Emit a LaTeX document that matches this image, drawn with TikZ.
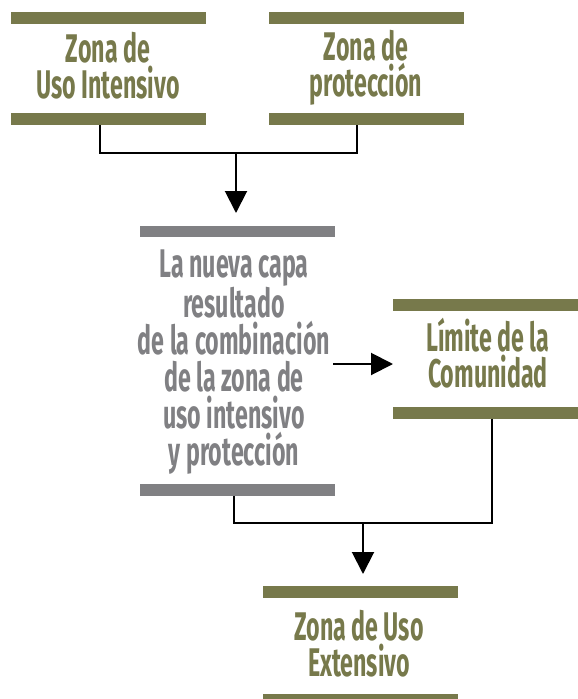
\documentclass[tikz,border=0pt]{standalone}
\usepackage{fontspec}
\setmainfont{Fira Sans}[FakeStretch=0.58]
\usetikzlibrary{arrows.meta}
\definecolor{olivec}{HTML}{77794B}
\definecolor{greyc}{HTML}{808083}
\begin{document}
\begin{tikzpicture}[x=1pt,y=-1pt,
  bar/.style={fill=#1, draw=none, minimum width=195pt, minimum height=12pt, inner sep=0pt, outer sep=0pt},
  lbl/.style={text=#1, font=\fontsize{40}{36}\selectfont\bfseries, align=center, inner sep=0pt},
  conn/.style={line width=2pt},
  arr/.style={line width=2pt, -{Triangle[length=22pt,width=22pt]}}]
\useasboundingbox (0,0) rectangle (578,699);
% box 1
\node[bar=olivec] (b1t) at (108.5,18) {};
\node[bar=olivec] (b1b) at (108.5,119) {};
\node[lbl=olivec] (t1) at (108,66) {Zona de\\Uso Intensivo};
% box 2
\node[bar=olivec] (b2t) at (366.5,18) {};
\node[bar=olivec] (b2b) at (366.5,119) {};
\node[lbl=olivec] (t2) at (366,68) {Zona de\\protección};
% box 3
\node[bar=greyc, minimum height=11pt] (b3t) at (237.5,231.5) {};
\node[bar=greyc] (b3b) at (237.5,490) {};
\node[lbl=greyc, font=\fontsize{40}{37}\selectfont\bfseries] (t3) at (234,362) {La nueva capa\\resultado\\de la combinación\\de la zona de\\uso intensivo\\y protección};
% box 4
\node[bar=olivec, minimum width=185pt] (b4t) at (485.5,305) {};
\node[bar=olivec, minimum width=185pt] (b4b) at (485.5,412.5) {};
\node[lbl=olivec] (t4) at (488,353) {Límite de la\\Comunidad};
% box 5
\node[bar=olivec] (b5t) at (360.5,592) {};
\node[bar=olivec] (b5b) at (360.5,700) {};
\node[lbl=olivec] (t5) at (359,644) {Zona de Uso\\Extensivo};
% connectors
\coordinate (j1) at (236,153);
\draw[conn] ([xshift=-8.5pt]b1b.south) |- (j1) -| ([xshift=-9.5pt]b2b.south);
\draw[arr] (j1) -- ([yshift=13pt]b3t.north -| j1);
\coordinate (a2) at (333,364);
\draw[arr] (a2) -- (a2 -| b4t.west);
\coordinate (j2) at (363,523);
\draw[conn] ([xshift=6.5pt]b4b.south) |- (j2) -| ([xshift=-3.5pt]b3b.south);
\draw[arr] (j2) -- ([yshift=12pt]b5t.north -| j2);
\end{tikzpicture}
\end{document}
